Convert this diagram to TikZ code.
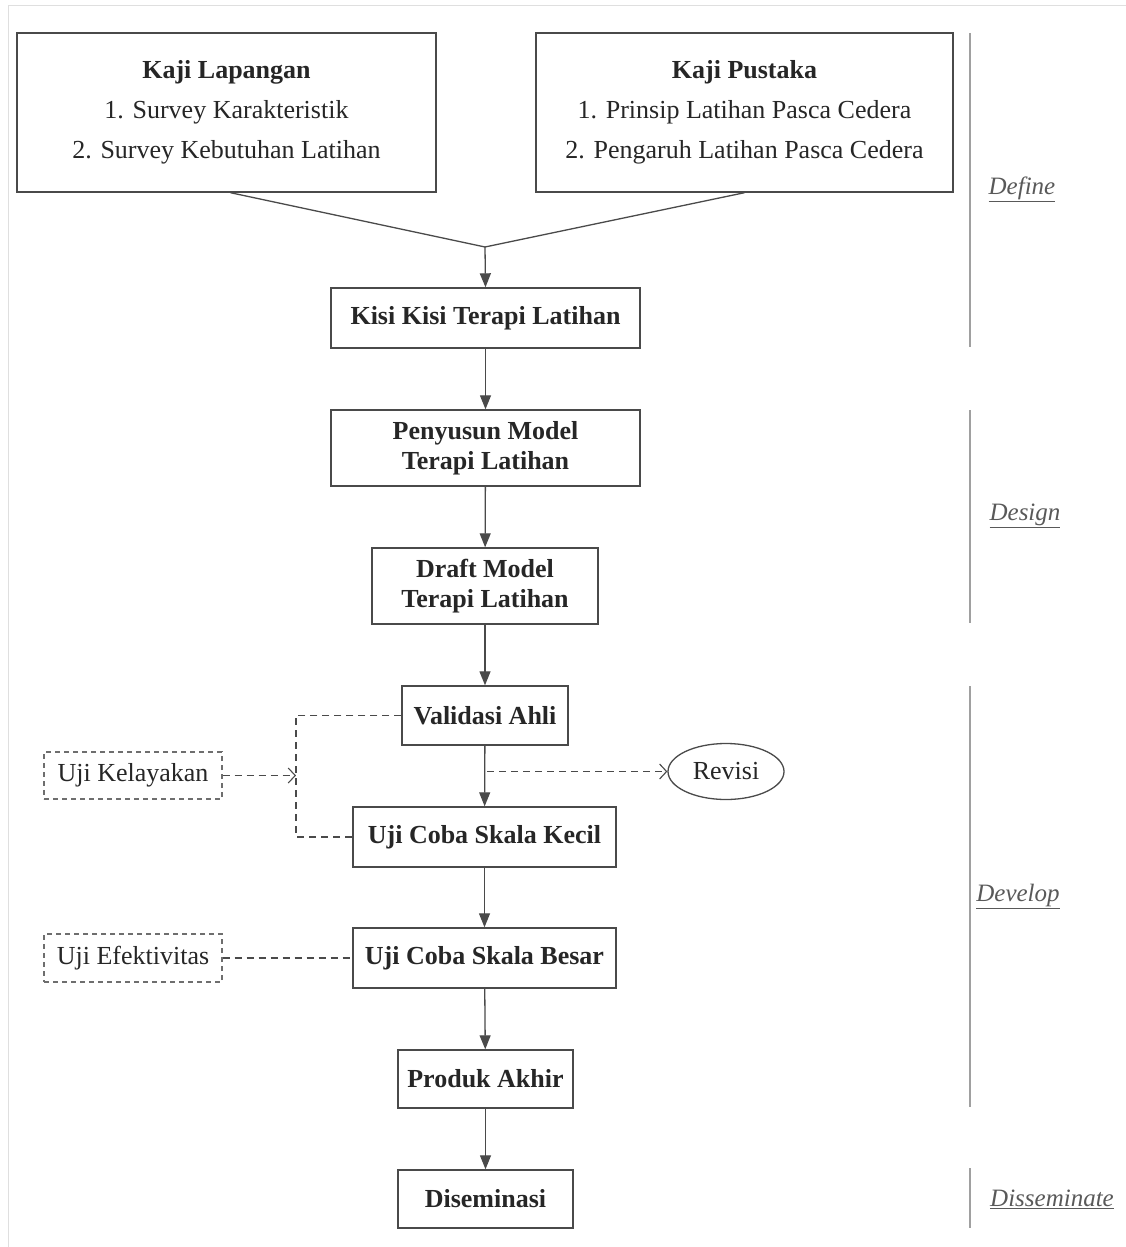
\documentclass[tikz,border=0pt]{standalone}
\usepackage{fontspec}
\setmainfont{Liberation Serif}
\usetikzlibrary{arrows.meta,shapes.geometric}
\definecolor{ln}{HTML}{4A4A4A}
\definecolor{tx}{HTML}{262626}
\definecolor{bar}{HTML}{A0A0A0}
\begin{document}
\begin{tikzpicture}[x=1pt,y=-1pt,
  box/.style={draw=ln,line width=1.4pt,text=tx,align=center,inner sep=0pt,font=\fontsize{26}{29.5}\selectfont\bfseries},
  topbox/.style={draw=ln,line width=1.4pt,text=tx,align=center,inner sep=0pt,font=\fontsize{26}{40}\selectfont},
  dbox/.style={draw=ln!80,line width=1.1pt,dashed,dash pattern=on 5pt off 4pt,text=tx,inner sep=0pt,font=\fontsize{26}{30}\selectfont},
  arr/.style={draw=ln,line width=1.3pt,-{Triangle[length=14pt,width=11pt]}},
  dl/.style={draw=ln,line width=1.1pt,dash pattern=on 7pt off 5pt},
  barb/.style={-{Straight Barb[length=7pt,width=15pt]}},
  phase/.style={text=black!65,font=\fontsize{25}{28}\selectfont\itshape},
  vbar/.style={draw=bar,line width=2.2pt}
]
\useasboundingbox (0,0) rectangle (1126,1247);
\draw[gray!25,line width=1pt] (1126,6) -- (8,6) -- (8,1247);
% top boxes
\node[topbox,minimum width=419pt,minimum height=159pt] (kl) at (226.5,112.5) {\textbf{Kaji Lapangan}\\1. Survey Karakteristik\\2. Survey Kebutuhan Latihan};
\node[topbox,minimum width=417pt,minimum height=159pt] (kp) at (744.5,112.5) {\textbf{Kaji Pustaka}\\1. Prinsip Latihan Pasca Cedera\\2. Pengaruh Latihan Pasca Cedera};
\node[box,minimum width=309pt,minimum height=60pt] (kisi) at (485.5,318) {Kisi Kisi Terapi Latihan};
\node[box,minimum width=309pt,minimum height=76pt] (peny) at (485.5,448) {Penyusun Model\\Terapi Latihan};
\node[box,minimum width=226pt,minimum height=76pt] (draft) at (485,586) {Draft Model\\Terapi Latihan};
\node[box,minimum width=166pt,minimum height=59pt] (val) at (485,715.5) {Validasi Ahli};
\node[box,minimum width=263pt,minimum height=60pt] (kecil) at (484.5,837) {Uji Coba Skala Kecil};
\node[box,minimum width=263pt,minimum height=60pt] (besar) at (484.5,958) {Uji Coba Skala Besar};
\node[box,minimum width=175pt,minimum height=58pt] (prod) at (485.5,1079) {Produk Akhir};
\node[box,minimum width=175pt,minimum height=58pt] (dis) at (485.5,1199) {Diseminasi};
\node[ellipse,draw=ln,line width=1.3pt,text=tx,inner sep=0pt,minimum width=116pt,minimum height=56pt,font=\fontsize{26}{30}\selectfont] (rev) at (726,771.5) {Revisi};
\node[dbox,minimum width=178pt,minimum height=47pt] (kel) at (133,775.5) {Uji Kelayakan};
\node[dbox,minimum width=178pt,minimum height=48pt] (efe) at (133,958) {Uji Efektivitas};
% connectors
\coordinate (join) at (485,247);
\draw[ln,line width=1.3pt] (kl.south) ++(4,0) -- (join);
\draw[ln,line width=1.3pt] (kp.south) -- (join);
\draw[arr] (join) -- (kisi.north);
\draw[arr] (kisi) -- (peny);
\draw[arr] (peny) -- (draft);
\draw[arr] (draft) -- (val);
\draw[arr] (val) -- (kecil);
\draw[arr] (kecil) -- (besar);
\draw[arr] (besar) -- (prod);
\draw[arr] (prod) -- (dis);
\coordinate (vx) at (296,775.5);
\draw[dl] (val.west) -| (vx) |- (kecil.west);
\draw[dl,barb] (kel.east) -- (vx);
\coordinate (rs) at (487,771.5);
\draw[dl,barb] (rs) -- (rev.west);
\draw[dl] (efe.east) -- (besar.west);
% phases
\draw[vbar] (970,33) -- (970,347);
\draw[vbar] (970,410) -- (970,623);
\draw[vbar] (970,686) -- (970,1107);
\draw[vbar] (970,1168) -- (970,1228);
\node[phase] (p1) at (1022,189) {\underline{Define}};
\node[phase] (p2) at (1025,516) {\underline{Design}};
\node[phase] (p3) at (1018,896) {\underline{Develop}};
\node[phase] (p4) at (1052,1199) {\underline{Disseminate}};
\end{tikzpicture}
\end{document}
